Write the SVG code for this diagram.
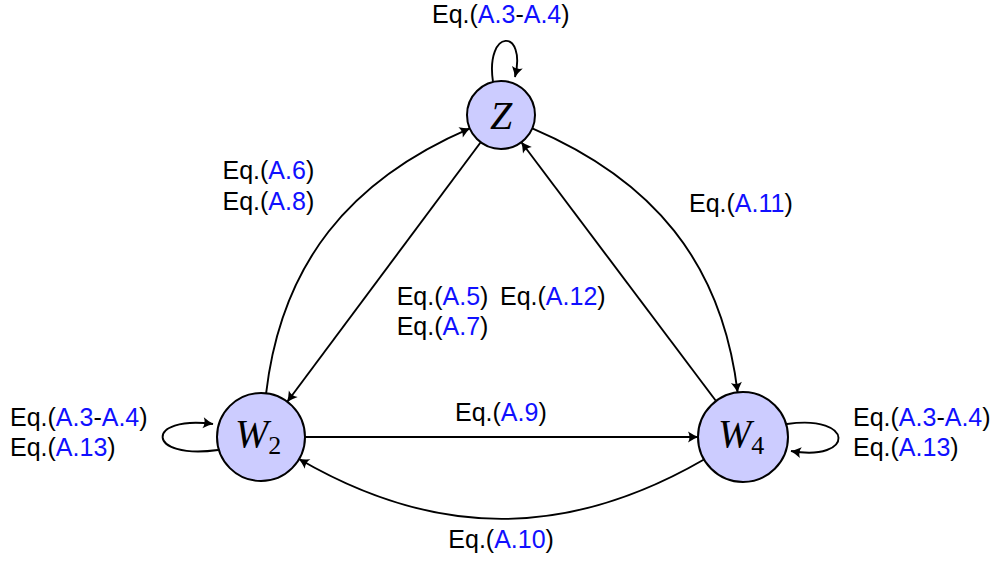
<svg xmlns="http://www.w3.org/2000/svg" width="997" height="565" viewBox="0 0 997 565">
<style>
.node{fill:#ccccff;stroke:#000;stroke-width:2}
.edge{fill:none;stroke:#000;stroke-width:1.9;marker-end:url(#ah)}
.lbl{font-family:"Liberation Sans",Arial,sans-serif;font-size:25px;fill:#000}
.b{fill:#1010ff}
.m{font-family:"Liberation Serif","Times New Roman",serif;font-style:italic;font-size:40px;fill:#000}
.sub{font-style:normal;font-size:26px}
</style>
<defs>
<marker id="ah" markerUnits="userSpaceOnUse" markerWidth="16" markerHeight="16" viewBox="-12 -8 16 16" refX="0" refY="0" orient="auto">
<path d="M0.5,0 Q-4,-1.5 -10,-5.5 Q-7,0 -10,5.5 Q-4,1.5 0.5,0 Z" fill="#000"/>
</marker>
</defs>
<g id="connectors">
<path class="edge" d="M493,82 C485,28 527,28 515,77"/>
<path class="edge" d="M218,450 C145,460 145,415 213,424"/>
<path class="edge" d="M787,424 C855,414 855,462 791,451"/>
<path class="edge" d="M266.1,393.3 C281.4,263.4 349.7,180.1 469.8,128.4"/>
<path class="edge" d="M532.3,128.3 C652.7,179.7 721.9,262.3 737.6,392.3"/>
<path class="edge" d="M704,459.5 C566.7,538.8 436.3,538.8 299,459"/>
<path class="edge" d="M480.7,142.3 L287.3,401.7"/>
<path class="edge" d="M716,401 L521.4,142.2"/>
<path class="edge" d="M305,437 L698,437"/>
</g>
<g id="node-Z">
<circle class="node" cx="501" cy="115" r="34"/>
<text class="m" x="501" y="129" text-anchor="middle">Z</text>
</g>
<g id="node-W2">
<circle class="node" cx="261" cy="437" r="44"/>
<text class="m" x="235" y="447">W<tspan class="sub" dy="7">2</tspan></text>
</g>
<g id="node-W4">
<circle class="node" cx="743" cy="437" r="45"/>
<text class="m" x="718" y="447">W<tspan class="sub" dy="7">4</tspan></text>
</g>
<g id="labels">
<text class="lbl" x="432" y="23">Eq.(<tspan class="b">A.3</tspan>-<tspan class="b">A.4</tspan>)</text>
<text class="lbl" x="222.5" y="178.5">Eq.(<tspan class="b">A.6</tspan>)</text>
<text class="lbl" x="222.5" y="209.5">Eq.(<tspan class="b">A.8</tspan>)</text>
<text class="lbl" x="689" y="211.5">Eq.(<tspan class="b">A.11</tspan>)</text>
<text class="lbl" x="396.7" y="305">Eq.(<tspan class="b">A.5</tspan>)</text>
<text class="lbl" x="396.7" y="335">Eq.(<tspan class="b">A.7</tspan>)</text>
<text class="lbl" x="500" y="305">Eq.(<tspan class="b">A.12</tspan>)</text>
<text class="lbl" x="455" y="421">Eq.(<tspan class="b">A.9</tspan>)</text>
<text class="lbl" x="448.3" y="548">Eq.(<tspan class="b">A.10</tspan>)</text>
<text class="lbl" x="10" y="426">Eq.(<tspan class="b">A.3</tspan>-<tspan class="b">A.4</tspan>)</text>
<text class="lbl" x="10" y="455.5">Eq.(<tspan class="b">A.13</tspan>)</text>
<text class="lbl" x="853" y="426">Eq.(<tspan class="b">A.3</tspan>-<tspan class="b">A.4</tspan>)</text>
<text class="lbl" x="853" y="455.5">Eq.(<tspan class="b">A.13</tspan>)</text>
</g>
</svg>
